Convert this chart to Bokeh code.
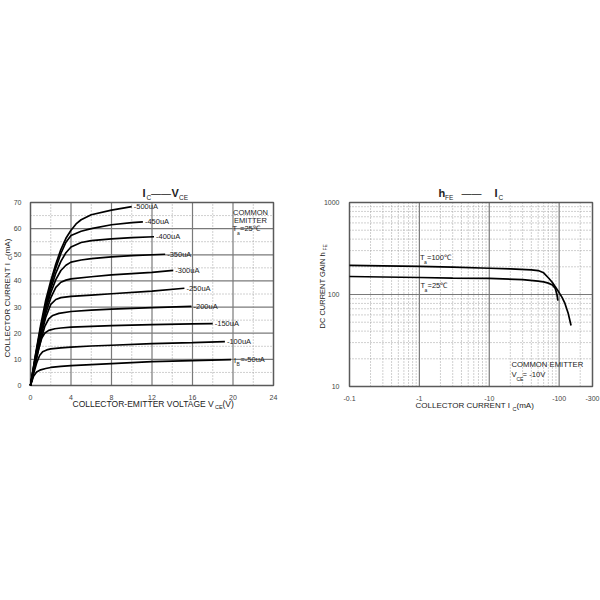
import math
from bokeh.plotting import figure
from bokeh.layouts import row
from bokeh.models import Label, FixedTicker, Range1d, CustomJSTickFormatter, ColumnDataSource
from bokeh.embed import file_html
from bokeh.resources import INLINE
from bokeh.core.properties import value

FONT = "Liberation Sans"
TXT = "#222222"

# ---------------- Left chart: Ic - Vce ----------------
vce_ticks = [0, 4, 8, 12, 16, 20, 24]
vce_minor = [2, 6, 10, 14, 18, 22]
ic_ticks = [0, 10, 20, 30, 40, 50, 60, 70]
ic_minor = [5, 15, 25, 35, 45, 55, 65]

v50 = [0, 0.3, 0.6, 1.0, 1.5, 2, 3, 4, 6, 8, 12, 16, 19.8]
i50 = [0, 3.5, 5.2, 6.0, 6.5, 6.9, 7.3, 7.6, 8.0, 8.4, 9.1, 9.5, 9.9]
v100 = [0, 0.3, 0.6, 0.9, 1.2, 1.6, 2, 3, 4, 6, 8, 12, 16, 19.2]
i100 = [0, 4.5, 8.5, 11.5, 12.9, 13.6, 14.0, 14.4, 14.7, 15.1, 15.4, 16.0, 16.4, 16.8]
v150 = [0, 0.4, 0.8, 1.1, 1.4, 1.8, 2.4, 3, 4, 6, 8, 12, 16, 18.0]
i150 = [0, 7, 14, 18, 20, 21.1, 21.7, 22.0, 22.3, 22.6, 22.9, 23.3, 23.6, 23.7]
v200 = [0, 0.5, 1, 1.4, 1.8, 2.2, 2.8, 4, 6, 8, 12, 15.9]
i200 = [0, 9, 17, 22.5, 25.5, 26.8, 27.6, 28.3, 28.8, 29.2, 29.8, 30.3]
v250 = [0, 0.5, 1, 1.5, 2, 2.5, 3, 4, 6, 8, 12, 15.2]
i250 = [0, 9.5, 18.5, 26, 31, 32.9, 33.6, 34.1, 34.6, 35.1, 36.1, 37.2]
v300 = [0, 0.5, 1, 1.5, 2, 2.5, 3, 3.5, 4, 6, 8, 12, 14.1]
i300 = [0, 10, 19.5, 27.5, 33.5, 37.5, 39.5, 40.3, 40.8, 41.6, 42.3, 43.3, 44.0]
v350 = [0, 0.5, 1, 1.5, 2, 2.5, 3, 3.5, 4, 5, 6, 8, 10, 13.3]
i350 = [0, 10.5, 20.5, 29, 35.5, 40.5, 44, 46, 47.2, 48.0, 48.5, 49.2, 49.7, 50.2]
v400 = [0, 0.5, 1, 1.5, 2, 2.5, 3, 3.5, 4, 5, 6, 8, 10, 12.2]
i400 = [0, 11, 21.5, 30, 37, 43, 47.5, 50.8, 53, 54.7, 55.4, 56.1, 56.6, 56.9]
v450 = [0, 0.5, 1, 1.5, 2, 2.5, 3, 3.5, 4, 5, 6, 8, 10, 11.1]
i450 = [0, 11.5, 22, 31, 38.5, 45, 50.5, 54.8, 57.4, 59.0, 60.0, 61.5, 62.3, 62.6]
v500 = [0, 0.5, 1, 1.5, 2, 2.5, 3, 3.5, 4, 4.5, 5, 6, 8, 10.0]
i500 = [0, 12, 23, 32.5, 40, 46.5, 52, 56.3, 59.4, 61.8, 63.4, 65.3, 67.1, 68.4]

ib_labels = ["=-50uA", "-100uA", "-150uA", "-200uA", "-250uA",
             "-300uA", "-350uA", "-400uA", "-450uA", "-500uA"]
curves_v = [v50, v100, v150, v200, v250, v300, v350, v400, v450, v500]
curves_i = [i50, i100, i150, i200, i250, i300, i350, i400, i450, i500]

# ---------------- Right chart: hFE - Ic ----------------
ic_100c = [0.1, 0.3, 1, 3, 10, 20, 40, 50, 60, 70, 80, 96, 110, 121, 135, 148]
hfe_100c = [207, 205, 202, 198, 193, 190, 185, 182, 172, 152, 135, 110, 93, 80, 62, 46]
ic_25c = [0.1, 0.3, 1, 3, 10, 30, 50, 60, 70, 80, 88, 93, 96]
hfe_25c = [157, 155, 153, 151, 150, 145, 140, 137, 133, 127, 116, 100, 86]

x_tick_vals = [0.1, 1, 10, 100, 300]
x_tick_labels = ["-0.1", "-1", "-10", "-100", "-300"]
x_minor_vals = [0.2, 0.3, 0.4, 0.5, 0.6, 0.7, 0.8, 0.9,
                2, 3, 4, 5, 6, 7, 8, 9,
                20, 30, 40, 50, 60, 70, 80, 90, 200]
y_tick_vals = [10, 100, 1000]
y_tick_labels = ["10", "100", "1000"]
y_minor_vals = [20, 30, 40, 50, 60, 70, 80, 90,
                200, 300, 400, 500, 600, 700, 800, 900]

# ---------------- page layout (pixels) ----------------
CANVAS_H = 420
W1, W2 = 283, 317
BOX1 = dict(l=30, r=273, t=202, b=385)       # left chart box on the page
BOX2 = dict(l=349, r=592, t=202, b=386)      # right chart box on the page
OX2 = W1                                      # page x of right canvas origin

GRID_MAJOR = "#7a7a7a"
GRID_MINOR = "#a0a0a0"
BOX_COLOR = "#5a5a5a"


def lab(p, ox, text, ax, ay, size, bold=False, angle=0.0,
        align="left", baseline="middle", color=TXT):
    p.add_layout(Label(x=ax - ox, y=CANVAS_H - ay, x_units="screen", y_units="screen",
                       text=text, text_font=FONT, text_font_size=f"{size}px",
                       text_font_style="bold" if bold else "normal",
                       text_align=align, text_baseline=baseline, angle=angle,
                       text_color=color))


def style_axes(p):
    p.xgrid.visible = False
    p.ygrid.visible = False
    p.outline_line_color = None
    p.axis.axis_line_color = None
    p.axis.major_tick_line_color = None
    p.axis.minor_tick_line_color = None
    p.axis.major_label_text_font = FONT
    p.axis.major_label_text_font_size = "7px"
    p.axis.major_label_text_color = "#444444"
    p.axis.major_label_standoff = 3
    p.background_fill_color = "white"
    p.border_fill_color = "white"


def grid_lines(p, xs, y0, y1, color, dash, width):
    p.segment(x0=xs, y0=[y0] * len(xs), x1=xs, y1=[y1] * len(xs),
              line_color=color, line_dash=dash, line_width=width)


def hgrid_lines(p, ys, x0, x1, color, dash, width):
    p.segment(x0=[x0] * len(ys), y0=ys, x1=[x1] * len(ys), y1=ys,
              line_color=color, line_dash=dash, line_width=width)


# ---- left figure: linear ranges extended so the chart box lands on BOX1 ----
pxv = (BOX1["r"] - BOX1["l"]) / (vce_ticks[-1] - vce_ticks[0])
pxi = (BOX1["b"] - BOX1["t"]) / (ic_ticks[-1] - ic_ticks[0])
xr1 = Range1d(vce_ticks[0] - BOX1["l"] / pxv, vce_ticks[-1] + (W1 - BOX1["r"]) / pxv)
yr1 = Range1d(ic_ticks[0] - (CANVAS_H - BOX1["b"]) / pxi, ic_ticks[-1] + BOX1["t"] / pxi)

p1 = figure(output_backend="svg", toolbar_location=None,
            frame_width=W1, frame_height=CANVAS_H, min_border=0,
            x_range=xr1, y_range=yr1)
style_axes(p1)
p1.xaxis.ticker = FixedTicker(ticks=vce_ticks, minor_ticks=vce_minor)
p1.yaxis.ticker = FixedTicker(ticks=ic_ticks, minor_ticks=ic_minor)
p1.xaxis.fixed_location = ic_ticks[0]
p1.yaxis.fixed_location = vce_ticks[0]
p1.xaxis.bounds = (vce_ticks[0], vce_ticks[-1])
p1.yaxis.bounds = (ic_ticks[0], ic_ticks[-1])

grid_lines(p1, vce_minor, ic_ticks[0], ic_ticks[-1], GRID_MINOR, "1 2", 1)
hgrid_lines(p1, ic_minor, vce_ticks[0], vce_ticks[-1], GRID_MINOR, "1 2", 1)
grid_lines(p1, vce_ticks[1:-1], ic_ticks[0], ic_ticks[-1], GRID_MAJOR, "solid", 1.2)
hgrid_lines(p1, ic_ticks[1:-1], vce_ticks[0], vce_ticks[-1], GRID_MAJOR, "solid", 1.2)
p1.quad(left=[vce_ticks[0]], right=[vce_ticks[-1]], bottom=[ic_ticks[0]], top=[ic_ticks[-1]],
        fill_color=None, line_color=BOX_COLOR, line_width=1.5)

for vv, ii in zip(curves_v, curves_i):
    p1.line(vv, ii, line_color="black", line_width=1.7)

end_src = ColumnDataSource(dict(x=[v[-1] for v in curves_v],
                                y=[i[-1] for i in curves_i],
                                t=ib_labels,
                                dx=[9.5 if t.startswith("=") else 2 for t in ib_labels]))
p1.text(x="x", y="y", text="t", source=end_src, x_offset="dx",
        text_font=value(FONT), text_font_size="7.5px", text_baseline="middle",
        text_color=TXT)
lab(p1, 0, "I", 233.5, 359.5, 7.5)
lab(p1, 0, "B", 236, 363.5, 5)

# title
lab(p1, 0, "I", 142, 192, 11, bold=True)
lab(p1, 0, "C", 146, 197, 6.5)
lab(p1, 0, "\u2014\u2014", 150.5, 193, 10)
lab(p1, 0, "V", 171, 192, 11, bold=True)
lab(p1, 0, "CE", 178.5, 197, 6.5)
# common emitter note
lab(p1, 0, "COMMON", 250, 212, 7.5, align="center")
lab(p1, 0, "EMITTER", 250, 220, 7.5, align="center")
lab(p1, 0, "T", 232, 228, 7.5)
lab(p1, 0, "a", 236.5, 232, 5)
lab(p1, 0, "=25\u2103", 239.5, 228, 7.5)
# axis labels
lab(p1, 0, "COLLECTOR CURRENT  I", 7, 357, 8, angle=math.pi / 2)
lab(p1, 0, "C", 9.5, 259.5, 5.5, angle=math.pi / 2)
lab(p1, 0, "(mA)", 7, 255.5, 8, angle=math.pi / 2)
lab(p1, 0, "COLLECTOR-EMITTER VOLTAGE V", 72, 403, 8.5)
lab(p1, 0, "CE", 214.5, 406.5, 5.5)
lab(p1, 0, " (V)", 222, 403, 8.5)

# ---- right figure: log ranges extended so the chart box lands on BOX2 ----
lx0, lx1 = math.log10(x_tick_vals[0]), math.log10(x_tick_vals[-1])
ly0, ly1 = math.log10(y_tick_vals[0]), math.log10(y_tick_vals[-1])
dpx = (BOX2["r"] - BOX2["l"]) / (lx1 - lx0)
dpy = (BOX2["b"] - BOX2["t"]) / (ly1 - ly0)
xr2 = Range1d(10 ** (lx0 - (BOX2["l"] - OX2) / dpx), 10 ** (lx1 + (OX2 + W2 - BOX2["r"]) / dpx))
yr2 = Range1d(10 ** (ly0 - (CANVAS_H - BOX2["b"]) / dpy), 10 ** (ly1 + BOX2["t"] / dpy))

p2 = figure(output_backend="svg", toolbar_location=None,
            frame_width=W2, frame_height=CANVAS_H, min_border=0,
            x_axis_type="log", y_axis_type="log",
            x_range=xr2, y_range=yr2)
style_axes(p2)
p2.xaxis.ticker = FixedTicker(ticks=x_tick_vals, minor_ticks=x_minor_vals)
p2.yaxis.ticker = FixedTicker(ticks=y_tick_vals, minor_ticks=y_minor_vals)
p2.xaxis.fixed_location = y_tick_vals[0]
p2.yaxis.fixed_location = x_tick_vals[0]
p2.xaxis.bounds = (x_tick_vals[0], x_tick_vals[-1])
p2.yaxis.bounds = (y_tick_vals[0], y_tick_vals[-1])
fmt_code = """
for (let i = 0; i < vals.length; i++) {
  if (Math.abs(Math.log10(vals[i]) - Math.log10(tick)) < 1e-6) { return labs[i]; }
}
return "";
"""
p2.xaxis.formatter = CustomJSTickFormatter(args=dict(vals=x_tick_vals, labs=x_tick_labels), code=fmt_code)
p2.yaxis.formatter = CustomJSTickFormatter(args=dict(vals=y_tick_vals, labs=y_tick_labels), code=fmt_code)
p2.yaxis.major_label_standoff = 4

grid_lines(p2, x_minor_vals, y_tick_vals[0], y_tick_vals[-1], GRID_MINOR, "1 2", 1)
hgrid_lines(p2, y_minor_vals, x_tick_vals[0], x_tick_vals[-1], GRID_MINOR, "1 2", 1)
grid_lines(p2, x_tick_vals[1:-1], y_tick_vals[0], y_tick_vals[-1], GRID_MAJOR, "solid", 1.2)
hgrid_lines(p2, y_tick_vals[1:-1], x_tick_vals[0], x_tick_vals[-1], GRID_MAJOR, "solid", 1.2)
p2.quad(left=[x_tick_vals[0]], right=[x_tick_vals[-1]], bottom=[y_tick_vals[0]], top=[y_tick_vals[-1]],
        fill_color=None, line_color=BOX_COLOR, line_width=1.5)

p2.line(ic_100c, hfe_100c, line_color="black", line_width=1.7)
p2.line(ic_25c, hfe_25c, line_color="black", line_width=1.7)

lab(p2, OX2, "h", 438, 192, 11, bold=True)
lab(p2, OX2, "FE", 444.5, 197, 6.5)
lab(p2, OX2, "\u2014\u2014", 461, 193, 10)
lab(p2, OX2, "I", 494, 192, 11, bold=True)
lab(p2, OX2, "C", 498, 197, 6.5)

lab(p2, OX2, "T", 419.5, 257, 7.5)
lab(p2, OX2, "a", 423.5, 261, 5)
lab(p2, OX2, "=100\u2103", 426.5, 257, 7.5)
lab(p2, OX2, "T", 420, 285, 7.5)
lab(p2, OX2, "a", 424, 289, 5)
lab(p2, OX2, "=25\u2103", 427, 285, 7.5)

lab(p2, OX2, "COMMON EMITTER", 511, 364, 7.7)
lab(p2, OX2, "V", 511, 374, 7.7)
lab(p2, OX2, "CE", 516, 378, 5)
lab(p2, OX2, "= -10V", 522, 374, 7.7)

lab(p2, OX2, "DC CURRENT GAIN  h", 322, 328, 7.5, angle=math.pi / 2)
lab(p2, OX2, "FE", 324.5, 250, 5, angle=math.pi / 2)
lab(p2, OX2, "COLLECTOR CURRENT  I", 415, 405, 8)
lab(p2, OX2, "C", 512, 408, 5.5)
lab(p2, OX2, "(mA)", 516, 405, 8)

layout = row(p1, p2)
open("out.html", "w").write(file_html(layout, INLINE))
